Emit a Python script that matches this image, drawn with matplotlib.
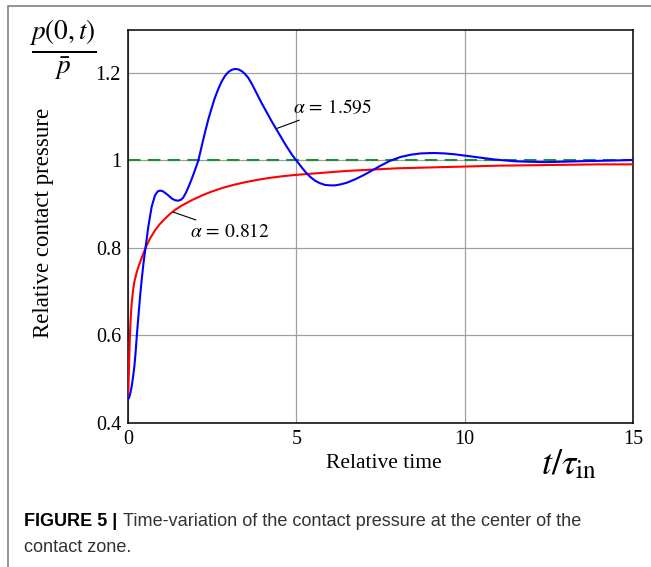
import numpy as np
import matplotlib
matplotlib.use("Agg")
import matplotlib.pyplot as plt
from matplotlib.patches import Rectangle

plt.rcParams['mathtext.fontset'] = 'stix'
plt.rcParams['font.family'] = 'Liberation Serif'

# alpha = 1.595 (blue)
t_blue = [0.00, 0.03, 0.07, 0.11, 0.15, 0.19, 0.23, 0.26, 0.31, 0.36, 0.41, 0.46, 0.52,
          0.60, 0.70, 0.80, 0.88, 0.95, 1.02, 1.10, 1.20, 1.30, 1.40, 1.49, 1.57, 1.64,
          1.72, 1.80, 1.89, 1.99, 2.09, 2.19, 2.29, 2.39, 2.49, 2.58, 2.68, 2.78, 2.88,
          2.98, 3.08, 3.18, 3.28, 3.38, 3.47, 3.57, 3.67, 3.77, 3.87, 3.97, 4.07, 4.17,
          4.27, 4.37, 4.47, 4.57, 4.67, 4.77, 4.87, 4.97, 5.07, 5.17, 5.31, 5.45, 5.57,
          5.70, 5.85, 6.00, 6.15, 6.30, 6.50, 6.75, 6.99, 7.25, 7.48, 7.78, 8.10, 8.40,
          8.70, 9.07, 9.40, 9.70, 10.0, 10.3, 10.6, 10.9, 11.2, 11.5, 11.9, 12.4, 12.9,
          13.4, 14.0, 14.5, 15.0]
p_blue = [0.455, 0.457, 0.468, 0.484, 0.505, 0.530, 0.565, 0.598, 0.645, 0.690, 0.730,
          0.765, 0.800, 0.847, 0.893, 0.920, 0.929, 0.931, 0.930, 0.926, 0.920, 0.913,
          0.909, 0.908, 0.910, 0.915, 0.926, 0.940, 0.957, 0.978, 1.000, 1.033, 1.065,
          1.095, 1.121, 1.143, 1.163, 1.180, 1.193, 1.202, 1.207, 1.209, 1.208, 1.204,
          1.198, 1.189, 1.176, 1.161, 1.146, 1.131, 1.117, 1.103, 1.089, 1.076, 1.063,
          1.050, 1.037, 1.025, 1.013, 1.003, 0.993, 0.983, 0.970, 0.960, 0.953, 0.948,
          0.944, 0.943, 0.943, 0.945, 0.949, 0.957, 0.966, 0.977, 0.987, 0.999, 1.008,
          1.013, 1.016, 1.017, 1.016, 1.014, 1.011, 1.008, 1.005, 1.002, 1.000, 0.998,
          0.997, 0.996, 0.997, 0.998, 0.999, 1.000, 1.001]

# alpha = 0.812 (red)
t_red = [0.00, 0.01, 0.02, 0.03, 0.045, 0.06, 0.08, 0.11, 0.15, 0.19, 0.25, 0.31, 0.40,
         0.52, 0.65, 0.80, 0.95, 1.10, 1.25, 1.40, 1.60, 1.89, 2.20, 2.49, 2.80, 3.13,
         3.47, 3.80, 4.20, 4.60, 5.00, 5.50, 6.00, 6.50, 7.00, 7.50, 8.00, 9.00, 10.0,
         11.0, 12.0, 13.0, 14.0, 15.0]
p_red = [0.460, 0.472, 0.500, 0.530, 0.570, 0.606, 0.640, 0.674, 0.703, 0.723, 0.742,
         0.757, 0.776, 0.800, 0.821, 0.840, 0.855, 0.867, 0.878, 0.887, 0.897, 0.909,
         0.920, 0.929, 0.937, 0.944, 0.950, 0.955, 0.960, 0.964, 0.967, 0.970, 0.973,
         0.976, 0.978, 0.980, 0.982, 0.984, 0.986, 0.988, 0.989, 0.990, 0.991, 0.991]

xticks = [0, 5, 10, 15]
yticks = [0.4, 0.6, 0.8, 1.0, 1.2]
ytick_labels = ['0.4', '0.6', '0.8', '1', '1.2']

fig = plt.figure(figsize=(6.51, 5.67), dpi=100)
ax = fig.add_axes([128/651, 1-423/567, 505/651, 393/567])

ax.plot(t_red, p_red, color='#ff0000', lw=1.5, zorder=3)
ax.plot(t_blue, p_blue, color='#0000ff', lw=1.5, zorder=4)
ax.axhline(1.0, color='#1e8c3c', lw=1.5, dashes=(6, 3.5), zorder=2)

ax.set_xlim(0, 15)
ax.set_ylim(0.4, 1.298)
ax.set_xticks(xticks)
ax.set_yticks(yticks)
ax.set_yticklabels(ytick_labels)
ax.tick_params(length=0, labelsize=14.5)
ax.tick_params(axis='x', pad=5)
ax.tick_params(axis='y', pad=5)
ax.grid(True, color='#a0a0a0', lw=0.9)
ax.set_axisbelow(True)
for s in ax.spines.values():
    s.set_linewidth(1.1)

ax.set_xlabel('Relative time', fontsize=15.5)
ax.xaxis.set_label_coords(0.506, -0.078)
ax.set_ylabel('Relative contact pressure', fontsize=16.5)
ax.yaxis.set_label_coords(-0.147, 0.51)

ax.annotate(r'$\alpha\,=\,0.812$', xy=(1.34, 0.882), xytext=(1.84, 0.837),
            fontsize=14, va='center', ha='left',
            arrowprops=dict(arrowstyle='-', color='black', lw=0.8, shrinkA=0, shrinkB=0))
ax.annotate(r'$\alpha\,=\,1.595$', xy=(4.42, 1.073), xytext=(4.90, 1.12),
            fontsize=14, va='center', ha='left',
            arrowprops=dict(arrowstyle='-', color='black', lw=0.8, shrinkA=0, shrinkB=0))

fig.text(63/651, 1-51/567, r'$\frac{p(0,t)}{\bar{p}}$', fontsize=28, ha='center', va='center')
fig.text(569/651, 1-465/567, r'$t/\tau_{\mathrm{in}}$', fontsize=26, ha='center', va='center')

fig.text(24/651, 1-521/567, 'FIGURE 5 |', fontsize=13, fontweight='bold',
         family='Liberation Sans', ha='left', va='center')
fig.text(123/651, 1-521/567, 'Time-variation of the contact pressure at the center of the',
         fontsize=13.1, family='Liberation Sans', ha='left', va='center', color='#333333')
fig.text(24/651, 1-547/567, 'contact zone.', fontsize=13.1, family='Liberation Sans',
         ha='left', va='center', color='#333333')

fig.add_artist(Rectangle((8/651, -0.1), 1.0, 1-6/567 + 0.1, transform=fig.transFigure,
                         fill=False, edgecolor='#808080', lw=1.2))

fig.savefig('out.png', dpi=100)
